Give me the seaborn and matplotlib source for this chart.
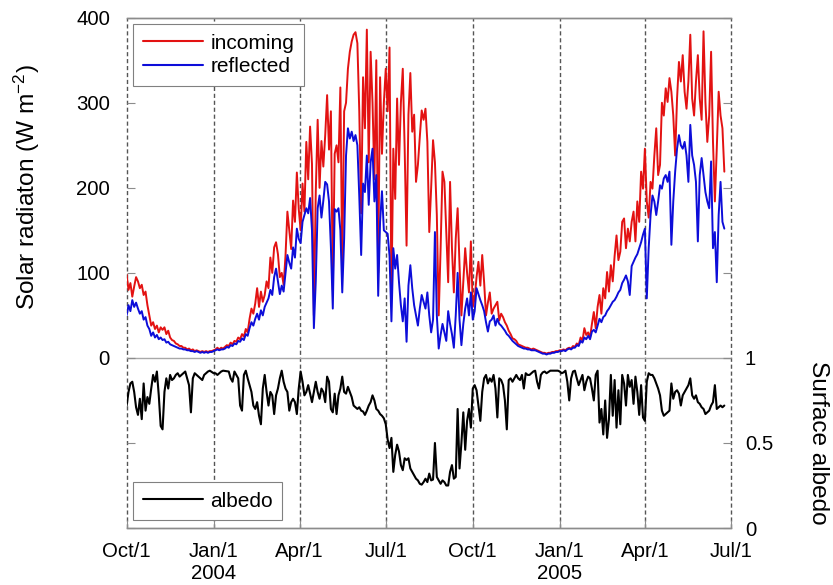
import numpy as np
import pandas as pd
import matplotlib
matplotlib.use("Agg")
import matplotlib.pyplot as plt
import seaborn as sns
from matplotlib.lines import Line2D
from matplotlib.ticker import NullLocator

# Daily-mean series sampled every second day, starting 1 Oct 2003
start_date = "2003-10-01"
step_days = 2

incoming = [
    98, 80, 88, 72, 84, 95, 90, 82, 86, 74,
    78, 62, 50, 38, 42, 34, 38, 30, 36, 33,
    36, 28, 32, 24, 21, 20, 17, 16, 14, 14,
    12, 12, 10, 11, 9, 10, 8, 9, 8, 7,
    8, 7, 8, 7, 8, 8, 9, 10, 12, 10,
    12, 11, 13, 15, 14, 18, 16, 20, 19, 24,
    22, 28, 25, 34, 30, 46, 58, 52, 64, 82,
    60, 78, 66, 74, 90, 82, 118, 100, 130, 136,
    122, 95, 100, 86, 120, 172, 150, 128, 185, 160,
    218, 175, 150, 205, 172, 254, 210, 272, 228, 50,
    195, 280, 200, 255, 225, 262, 309, 245, 290, 80,
    240, 250, 230, 318, 105, 290, 300, 340, 360, 372,
    380, 383, 370, 290, 170, 330, 270, 386, 230, 360,
    300, 210, 350, 100, 330, 240, 300, 340, 290, 365,
    70, 246, 187, 305, 227, 300, 340, 246, 132, 286,
    335, 266, 286, 207, 227, 260, 291, 280, 293, 254,
    148, 200, 256, 230, 168, 50, 129, 219, 207, 148,
    89, 207, 129, 77, 140, 176, 109, 50, 89, 129,
    100, 77, 137, 60, 70, 95, 113, 85, 121, 89,
    50, 65, 77, 52, 58, 62, 66, 44, 52, 48,
    42, 38, 32, 28, 23, 22, 20, 16, 15, 14,
    13, 12, 12, 11, 10, 11, 10, 9, 8, 7,
    6, 6, 5, 6, 6, 7, 7, 8, 8, 9,
    9, 10, 9, 11, 12, 11, 14, 13, 17, 15,
    24, 20, 35, 27, 30, 24, 40, 54, 35, 60,
    74, 52, 82, 70, 101, 78, 109, 90, 120, 144,
    115, 125, 160, 164, 129, 152, 137, 160, 172, 137,
    184, 160, 219, 199, 246, 184, 165, 207, 199, 238,
    270, 215, 227, 300, 285, 317, 301, 329, 313, 285,
    238, 305, 348, 325, 356, 313, 293, 325, 380, 305,
    285, 325, 356, 305, 280, 384, 301, 254, 285, 360,
    254, 184, 246, 313, 285, 270, 219,
]

reflected = [
    50, 62, 55, 68, 60, 65, 58, 52, 55, 45,
    48, 38, 34, 26, 30, 24, 27, 22, 24, 21,
    22, 18, 19, 16, 15, 14, 13, 12, 11, 11,
    10, 10, 9, 9, 8, 8, 7, 8, 7, 6,
    7, 6, 7, 6, 7, 7, 8, 9, 10, 9,
    10, 10, 11, 13, 12, 15, 14, 17, 16, 20,
    19, 23, 21, 28, 26, 35, 42, 38, 46, 52,
    45, 56, 50, 60, 65, 70, 80, 74, 95, 105,
    90, 75, 85, 78, 100, 121, 112, 105, 130, 118,
    152, 140, 135, 160, 168, 176, 170, 188, 150, 35,
    90, 176, 191, 165, 185, 207, 204, 184, 130, 58,
    175, 172, 176, 150, 77, 140, 238, 270, 258, 266,
    255, 262, 250, 190, 121, 205, 195, 238, 180, 230,
    246, 184, 215, 73, 160, 196, 150, 148, 146, 120,
    43, 129, 105, 121, 89, 62, 43, 70, 19, 85,
    109, 82, 62, 50, 38, 58, 74, 66, 58, 77,
    50, 30, 45, 148, 50, 11, 27, 40, 30, 20,
    55, 40, 28, 12, 50, 100, 45, 15, 40, 58,
    70, 50, 77, 45, 55, 82, 75, 68, 62, 55,
    42, 31, 43, 45, 50, 38, 46, 40, 38, 35,
    32, 28, 26, 23, 20, 18, 16, 14, 13, 12,
    11, 11, 10, 10, 9, 9, 9, 8, 7, 6,
    5, 5, 4, 5, 5, 6, 6, 7, 7, 8,
    8, 9, 8, 10, 11, 10, 12, 12, 15, 14,
    20, 18, 24, 22, 26, 22, 31, 33, 30, 38,
    46, 42, 48, 50, 55, 58, 62, 66, 68, 72,
    77, 80, 88, 92, 97, 90, 74, 108, 113, 118,
    122, 129, 136, 145, 152, 70, 129, 168, 191, 184,
    168, 184, 203, 199, 211, 215, 207, 219, 133, 184,
    219, 246, 262, 250, 246, 254, 238, 207, 274, 238,
    227, 207, 137, 215, 235, 215, 195, 184, 176, 231,
    129, 148, 89, 168, 207, 160, 152,
]

nan = np.nan
albedo = [
    .72, .80, .85, .86, .80, .71, .665, .76, .64, .85,
    .69, .77, .73, .82, .90, .86, .92, .78, .60, .58,
    .80, .88, .82, .90, .87, .88, .90, .91, .89, .90,
    .91, .92, .88, .84, .68, .88, .91, .90, .89, .88,
    .87, .90, .91, .92, .925, nan, .91, .91, .90, .91,
    .92, .925, nan, nan, .92, .88, .86, .92, .90, .88,
    .72, .69, .90, .925, .88, .84, .80, .72, .70, .74,
    .66, .61, .82, .90, .80, .72, .80, .78, .67, .78,
    .82, .88, .925, .86, .82, .80, .69, .74, .76, .74,
    .67, .82, .92, .86, .78, .80, .84, .79, .74, .80,
    .86, .80, .76, .82, .80, .74, .89, .86, .70, .68,
    .79, .67, .78, .82, .89, .80, .79, .83, .80, .77,
    .72, .71, .70, .71, .69, .685, .665, .69, .72, .74,
    .78, .75, .70, .69, .67, .66, .645, .61, .52, .47,
    .53, .33, .43, .49, .45, .37, .34, .41, .40, .41,
    .35, .33, .31, .29, .28, .26, .255, .27, .29, .27,
    .32, .28, .285, .50, .30, .28, .26, .28, .27, .25,
    .25, .33, .37, .29, .30, .70, .35, .50, .68, .46,
    .63, .70, .59, .82, .84, .81, .72, .63, .80, .88,
    .90, .85, .88, .86, .90, .82, .65, .88, .87, .84,
    .75, .58, .87, .88, .86, .88, .90, .88, .87, .90,
    .82, .91, .90, .90, .91, .92, .925, .86, .82, .90,
    .915, .92, .91, nan, .925, nan, .925, nan, .925, .92,
    .91, .915, .925, .86, .75, .88, .92, .925, .88, .84,
    .87, .90, .81, .86, .89, .88, .82, .75, .90, .925,
    .62, .70, .55, .75, .53, .64, .90, .66, .87, .59,
    .81, .61, .90, .85, .72, .90, .83, .87, .73, .89,
    .80, .665, .84, .65, .63, .86, .91, .90, .90, .88,
    .85, .82, .78, .69, .66, .67, .68, .69, .85, .76,
    .80, .81, .79, .72, .78, .80, .82, .84, .88, .78,
    .76, .78, .74, .73, .71, .70, .67, .68, .69, .72,
    .74, .84, .70, .71, .72, .71, .72,
]

tick_dates = ["2003-10-01", "2004-01-01", "2004-04-01", "2004-07-01",
              "2004-10-01", "2005-01-01", "2005-04-01", "2005-07-01"]
tick_labels = ["Oct/1", "Jan/1\n2004", "Apr/1", "Jul/1",
               "Oct/1", "Jan/1\n2005", "Apr/1", "Jul/1"]
rad_ticks = [0, 100, 200, 300, 400]
alb_ticks = [0, 0.5, 1]

dates = pd.date_range(start_date, periods=len(incoming), freq=f"{step_days}D")
df = pd.DataFrame({"date": dates, "incoming": incoming,
                   "reflected": reflected, "albedo": albedo})

sns.set_theme(style="white")
plt.rcParams["font.family"] = ["Liberation Sans", "DejaVu Sans"]
plt.rcParams["mathtext.default"] = "regular"
plt.rcParams["text.color"] = "black"
plt.rcParams["axes.labelcolor"] = "black"

RED = "#e31212"
BLUE = "#0d0dd9"
FRAME = "#8c8c8c"

fig = plt.figure(figsize=(8.33, 5.85), dpi=100)
ax = fig.add_axes([0.152, 0.0974, 0.7255, 0.8723])
ax2 = ax.twinx()

# quarter markers and the zero line separating the two panels
for d in tick_dates:
    ax.axvline(pd.Timestamp(d), color="#555555", lw=1.0, ls=(0, (3, 2)),
               zorder=0.5, clip_on=False)
ax.axhline(0, color="#a8a8a8", lw=1.0, zorder=0.6)

sns.lineplot(data=df, x="date", y="incoming", ax=ax, color=RED, lw=1.4,
             estimator=None)
sns.lineplot(data=df, x="date", y="reflected", ax=ax, color=BLUE, lw=1.4,
             estimator=None)
sns.lineplot(data=df, x="date", y="albedo", ax=ax2, color="black", lw=1.5,
             estimator=None)

x0, x1 = pd.Timestamp(tick_dates[0]), pd.Timestamp(tick_dates[-1])
ax.set_xlim(x0, x1)
ax.set_ylim(-200, 400)
ax2.set_ylim(0, 3)

ax.set_xticks([pd.Timestamp(d) for d in tick_dates])
ax.set_xticklabels(tick_labels)
ax.xaxis.set_minor_locator(NullLocator())
ax.set_yticks(rad_ticks)
ax.set_yticklabels([str(t) for t in rad_ticks])
ax2.set_yticks(alb_ticks)
ax2.set_yticklabels(["0", "0.5", "1"])

ax.tick_params(axis="both", direction="in", length=6, width=0.8,
               color=FRAME, labelsize=14.7, labelcolor="black")
ax.tick_params(axis="y", right=True, pad=12)
ax.tick_params(axis="x", bottom=True, pad=10)
ax2.tick_params(axis="y", direction="in", length=6, width=0.8, color=FRAME,
                labelsize=14.7, labelcolor="black", left=True, pad=10)

ax.set_xlabel("")
ax.set_ylabel("Solar radiaton (W m$^{-2}$)", fontsize=17.6, ha="center",
              va="center")
ax.yaxis.set_label_coords(-0.165, 0.667)
ax2.set_ylabel("Surface albedo", fontsize=17.6, rotation=-90, ha="center",
               va="center")
ax2.yaxis.set_label_coords(1.144, 0.1667)

for a in (ax, ax2):
    for side in ("top", "bottom"):
        a.spines[side].set_color(FRAME)
        a.spines[side].set_linewidth(1.0)
    a.spines["left"].set_visible(False)
    a.spines["right"].set_visible(False)

leg_kw = dict(fontsize=15, frameon=True, fancybox=False, edgecolor="#808080",
              framealpha=1, handlelength=2.9, handletextpad=0.35,
              borderpad=0.45, labelspacing=0.22, borderaxespad=0,
              labelcolor="black")
leg1 = ax.legend([Line2D([], [], color=RED, lw=1.5),
                  Line2D([], [], color=BLUE, lw=1.5)],
                 ["incoming", "reflected"], loc="upper left",
                 bbox_to_anchor=(0.0109, 0.987), **leg_kw)
leg1.get_frame().set_linewidth(0.8)
leg2 = ax2.legend([Line2D([], [], color="black", lw=1.5)], ["albedo"],
                  loc="lower left", bbox_to_anchor=(0.0109, 0.0157), **leg_kw)
leg2.get_frame().set_linewidth(0.8)

fig.savefig("out.png", dpi=100)
